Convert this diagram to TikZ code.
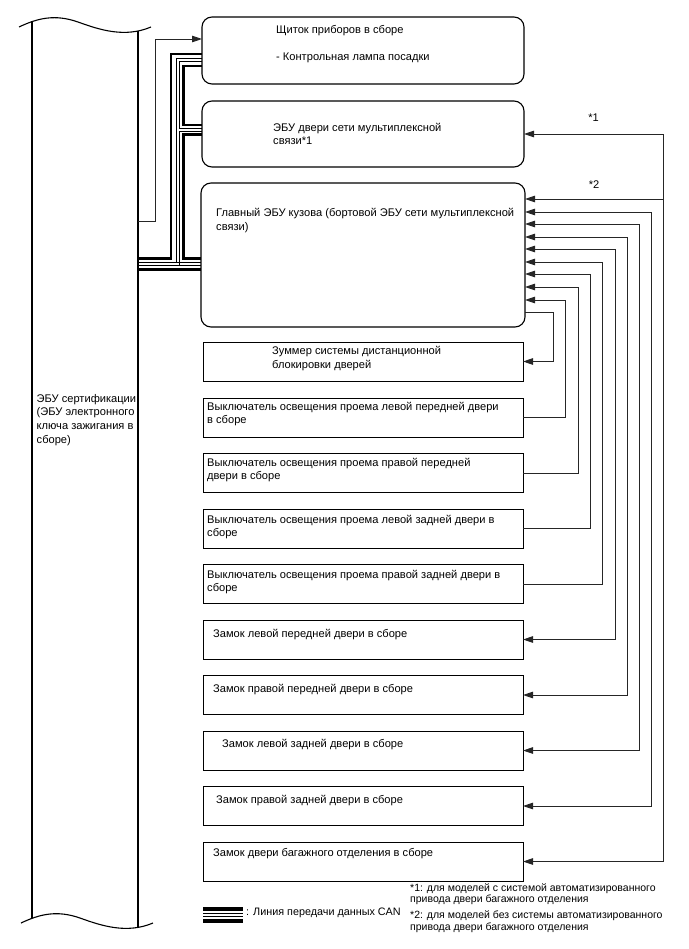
\documentclass[tikz,border=0pt]{standalone}
\usepackage{fontspec}
\setmainfont{Liberation Sans}
\usetikzlibrary{arrows.meta,positioning}

\begin{document}
\begin{tikzpicture}[
  x=1pt, y=-1pt,
  unit/.style={draw, line width=1.1pt, rounded corners=10pt, minimum width=322pt, anchor=north west, outer sep=0pt, inner sep=0pt},
  part/.style={draw, line width=1pt, minimum width=320pt, minimum height=39pt, outer sep=0pt, inner sep=0pt},
  txt/.style={font=\fontsize{11.1}{13.8}\selectfont, align=left, inner sep=0pt},
  edge/.style={line width=1.1pt},
  arrow/.style={-{Triangle[length=10pt,width=6.5pt]}, line width=0.9pt, draw=black!85},
  twoway/.style={{Triangle[length=10pt,width=6.5pt]}-{Triangle[length=10pt,width=6.5pt]}, line width=0.9pt, draw=black!85},
  canthick/.style={line width=2.7pt},
  canthin/.style={line width=1pt},
]
\useasboundingbox (0,0) rectangle (688,949);

% certification ECU (cut off at top and bottom)
\node[minimum width=106pt, minimum height=897pt, anchor=north west, outer sep=0pt, inner sep=0pt] (cert) at (32,27) {};
\draw[edge] (19,27) .. controls (38,18) and (55,14) .. (78,22) .. controls (100,30) and (125,38) .. (151,27);
\draw[edge, shift={(2,896)}] (19,27) .. controls (38,18) and (55,14) .. (78,22) .. controls (100,30) and (125,38) .. (151,27);
\draw[edge] (32,21) -- (32,918);
\draw[edge] (138,31) -- (138,927);
\node[txt, right=4.5pt of cert.west, yshift=55.5pt] (certtxt) {ЭБУ сертификации\\(ЭБУ электронного\\ключа зажигания в\\сборе)};

% ECUs
\node[unit, minimum height=67pt] (cluster) at (202,17) {};
\node[unit, minimum height=66pt] (doorecu) at (202,101) {};
\node[unit, minimum width=324pt, minimum height=144pt] (mainecu) at (201,183) {};
\node[txt, right=74pt of cluster.west, yshift=6.5pt] (clustertxt) {Щиток приборов в сборе\\[12.5pt]- Контрольная лампа посадки};
\node[txt, right=71pt of doorecu.west] (dooretxt) {ЭБУ двери сети мультиплексной\\связи*1};
\node[txt, right=15pt of mainecu.west, yshift=34.5pt] (maintxt) {Главный ЭБУ кузова (бортовой ЭБУ сети мультиплексной\\связи)};

% switches and locks
\node[part, anchor=north west] (buzzer) at (203,342) {};
\node[part, below=17pt of buzzer] (sw1) {};
\node[part, below=16.5pt of sw1] (sw2) {};
\node[part, below=16.5pt of sw2] (sw3) {};
\node[part, below=16.5pt of sw3] (sw4) {};
\node[part, below=16.5pt of sw4] (lock1) {};
\node[part, below=16.5pt of lock1] (lock2) {};
\node[part, below=16.5pt of lock2] (lock3) {};
\node[part, below=16.5pt of lock3] (lock4) {};
\node[part, below=16.5pt of lock4] (trunk) {};

\node[txt, right=69pt of buzzer.west, yshift=3pt] (buzzertxt) {Зуммер системы дистанционной\\блокировки дверей};
\node[txt, right=4pt of sw1.west, yshift=3.5pt] (sw1txt) {Выключатель освещения проема левой передней двери\\в сборе};
\node[txt, right=4pt of sw2.west, yshift=3pt] (sw2txt) {Выключатель освещения проема правой передней\\двери в сборе};
\node[txt, right=4pt of sw3.west, yshift=1.5pt] (sw3txt) {Выключатель освещения проема левой задней двери в\\сборе};
\node[txt, right=4pt of sw4.west, yshift=2pt] (sw4txt) {Выключатель освещения проема правой задней двери в\\сборе};
\node[txt, right=10pt of lock1.west, yshift=5pt] (lock1txt) {Замок левой передней двери в сборе};
\node[txt, right=10pt of lock2.west, yshift=5pt] (lock2txt) {Замок правой передней двери в сборе};
\node[txt, right=19pt of lock3.west, yshift=5.5pt] (lock3txt) {Замок левой задней двери в сборе};
\node[txt, right=13pt of lock4.west, yshift=5pt] (lock4txt) {Замок правой задней двери в сборе};
\node[txt, right=10pt of trunk.west, yshift=8pt] (trunktxt) {Замок двери багажного отделения в сборе};

% CAN lines
\draw[canthick] (cert.east |- 0,258.5) -| (171,54) -- (cluster.west |- 0,54);
\draw[canthin] (cert.east |- 0,262.5) -| (176.5,58.5) -- (cluster.west |- 0,58.5);
\draw[canthin] (cert.east |- 0,262.5) -- (mainecu.west |- 0,262.5);
\draw[canthin] (cluster.west |- 0,62) -| (179.5,128.5) -- (doorecu.west |- 0,128.5);
\draw[canthick] (cluster.west |- 0,66) -| (183.5,125) -- (doorecu.west |- 0,125);
\draw[canthin] (doorecu.west |- 0,131.5) -| (179.5,265.5) -- (mainecu.west |- 0,265.5);
\draw[canthin] (cert.east |- 0,265.5) -- (179.5,265.5);
\draw[canthick] (doorecu.west |- 0,134.5) -| (183.5,258.5) -- (mainecu.west |- 0,258.5);
\draw[canthick] (cert.east |- 0,269.5) -- (mainecu.west |- 0,269.5);

% direct line
\draw[arrow] (cert.east |- 0,221) -| (155,39) -- (cluster.west |- 0,39);

% right side
\coordinate (tap) at (663,199);
\draw[twoway] (mainecu.east |- 0,199) -- (tap) node[midway, above=10pt, txt] {*2} |- (trunk.east);
\draw[arrow] (tap) |- (doorecu.east) node[pos=0.75, above=12pt, txt] {*1};
\draw[twoway] (mainecu.east |- 0,212) -- (651,212) |- (lock4.east);
\draw[twoway] (mainecu.east |- 0,224) -- (639,224) |- (lock3.east);
\draw[twoway] (mainecu.east |- 0,237) -- (627,237) |- (lock2.east);
\draw[twoway] (mainecu.east |- 0,249) -- (615,249) |- (lock1.east);
\draw[arrow] (sw4.east) -| (602,262) -- (mainecu.east |- 0,262);
\draw[arrow] (sw3.east) -| (590,274) -- (mainecu.east |- 0,274);
\draw[arrow] (sw2.east) -| (578,287) -- (mainecu.east |- 0,287);
\draw[arrow] (sw1.east) -| (565,300) -- (mainecu.east |- 0,300);
\draw[arrow] (mainecu.east |- 0,312) -- (553,312) |- (buzzer.east);

% legend
\draw[line width=3.2pt] (203,909) -- (243,909);
\draw[canthin] (203,913) -- (243,913);
\draw[canthin] (203,916.5) -- (243,916.5);
\draw[line width=3.2pt] (203,921) -- (243,921);
\node[txt, anchor=west, font=\fontsize{10.8}{13}\selectfont] (canlegend) at (246,913) {: Линия передачи данных CAN};
\node[txt, anchor=west, font=\fontsize{10.5}{11.5}\selectfont] (notes) at (410,908) {*1: для моделей с системой автоматизированного\\привода двери багажного отделения\\[4.5pt]*2: для моделей без системы автоматизированного\\привода двери багажного отделения};

\end{tikzpicture}
\end{document}
